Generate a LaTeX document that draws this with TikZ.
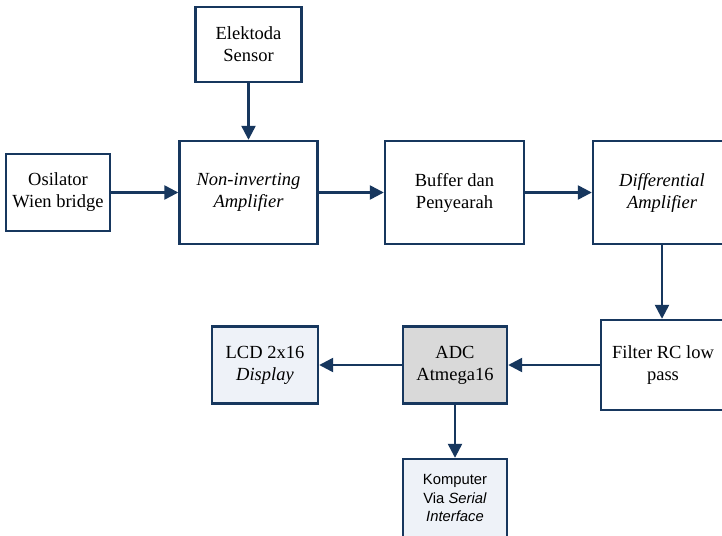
\documentclass[tikz,border=0pt]{standalone}
\usepackage{fontspec}
\setmainfont{Liberation Serif}
\newfontfamily\arialfont{Liberation Sans}
\usetikzlibrary{arrows.meta}
\definecolor{navy}{HTML}{17375E}
\definecolor{paleblue}{HTML}{EEF2F8}
\definecolor{palegray}{HTML}{D9D9D9}
\tikzset{
  blockbox/.style={draw=navy, line width=2.4pt, fill=white, align=center,
    inner sep=0pt, font=\fontsize{18.5}{22}\selectfont},
  flow/.style={draw=navy, line width=2.4pt,
    -{Triangle[length=14pt, width=14pt]}}
}
\begin{document}
\begin{tikzpicture}[x=1pt, y=-1pt]
  \clip (0,0) rectangle (722,535);
  \fill[white] (0,0) rectangle (722,535);

  \node[blockbox, minimum width=106pt, minimum height=75pt] (sensor) at (248.5,44.5)
    {Elektoda\\Sensor};
  \node[blockbox, minimum width=104pt, minimum height=77pt] (osc) at (58,192.5)
    {Osilator\\Wien bridge};
  \node[blockbox, minimum width=138pt, minimum height=103pt] (noninv) at (248.5,192.5)
    {\itshape Non-inverting\\\itshape Amplifier};
  \node[blockbox, minimum width=139pt, minimum height=103pt] (buffer) at (454.5,192.5)
    {Buffer dan\\Penyearah};
  \node[blockbox, minimum width=138pt, minimum height=103pt] (diff) at (662,192.5)
    {\itshape Differential\\\itshape Amplifier};
  \node[blockbox, minimum width=124pt, minimum height=90pt] (filter) at (663,365)
    {Filter RC low\\pass};
  \node[blockbox, fill=palegray, minimum width=104pt, minimum height=77pt] (adc) at (455,365)
    {ADC\\Atmega16};
  \node[blockbox, fill=paleblue, minimum width=106pt, minimum height=77pt] (lcd) at (265,365)
    {LCD 2x16\\\itshape Display};
  \node[blockbox, fill=paleblue, minimum width=104pt, minimum height=78pt,
        font=\arialfont\fontsize{14.8}{18.3}\selectfont] (pc) at (455,498)
    {Komputer\\Via \textit{Serial}\\\textit{Interface}};

  \draw[flow] (sensor.south) -- (noninv.north);
  \draw[flow] (osc.east) -- (noninv.west |- osc.east);
  \draw[flow] (noninv.east) -- (buffer.west);
  \draw[flow] (buffer.east) -- (diff.west);
  \draw[flow] (diff.south) -- (diff.south |- filter.north);
  \draw[flow] (filter.west) -- (adc.east);
  \draw[flow] (adc.west) -- (lcd.east);
  \draw[flow] (adc.south) -- (pc.north);
\end{tikzpicture}
\end{document}
